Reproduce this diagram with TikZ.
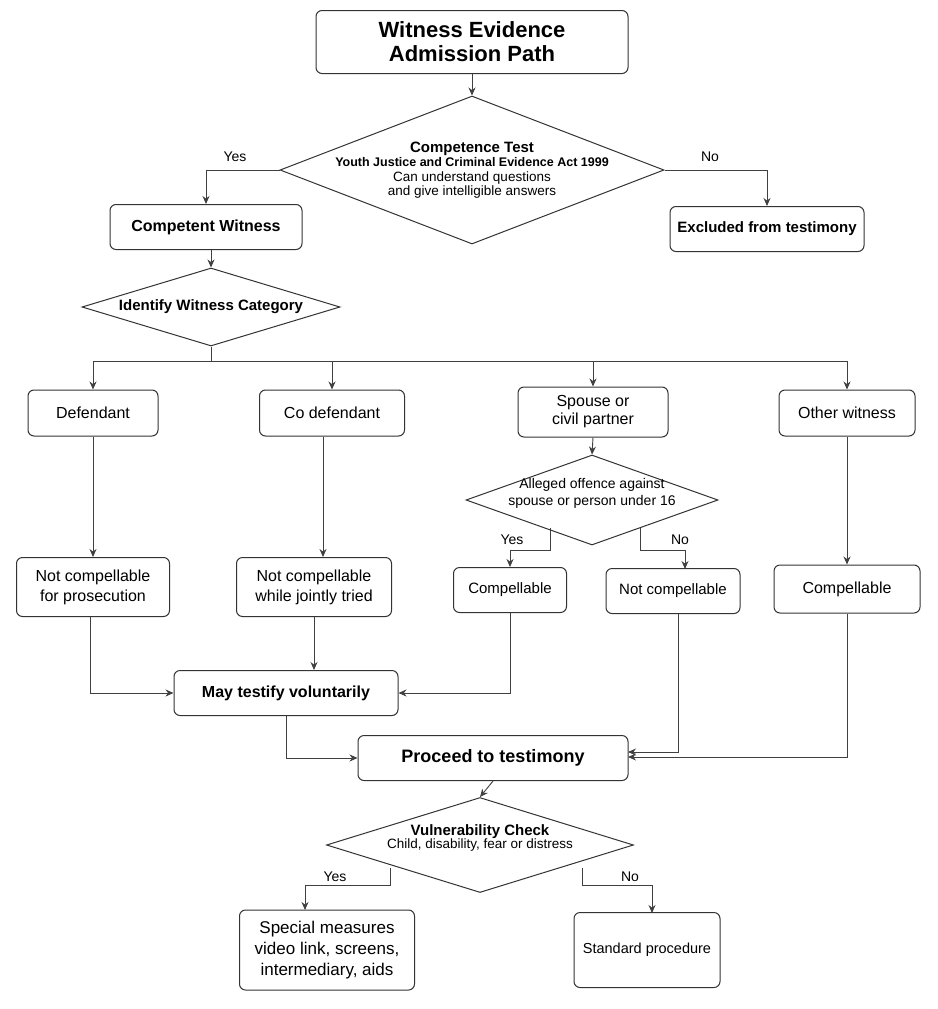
\documentclass[tikz,border=0pt]{standalone}
\usepackage{fontspec}
\setmainfont{Liberation Sans}
\usetikzlibrary{shapes.geometric,arrows.meta}
\begin{document}
\begin{tikzpicture}[x=1pt,y=-1pt,
  box/.style={draw=black!80,line width=1pt,rounded corners=6pt,align=center,inner sep=0pt,fill=white},
  dia/.style={draw=black!80,line width=1pt,diamond,aspect=2.6,align=center,inner sep=0pt,fill=white},
  arr/.style={draw=black!75,line width=0.9pt,-{Stealth[length=8pt,width=7pt]}},
  ln/.style={draw=black!75,line width=0.9pt},
  lab/.style={font=\fontsize{14}{16}\selectfont}]
\useasboundingbox (0,0) rectangle (937,1009);
\node[box,minimum width=312pt,minimum height=63pt,font=\bfseries\fontsize{22}{24}\selectfont] (t) at (472,42) {Witness Evidence\\Admission Path};
\node[dia,minimum width=384pt,minimum height=148pt] (c) at (472,170) {};
\node[align=center] at (472,170) {{\bfseries\fontsize{15}{17}\selectfont Competence Test}\\[1pt]{\bfseries\fontsize{12.5}{15}\selectfont Youth Justice and Criminal Evidence Act 1999}\\[3pt]{\fontsize{13.5}{18}\selectfont Can understand questions}\\{\fontsize{13.5}{16}\selectfont and give intelligible answers}};
\node[box,minimum width=192pt,minimum height=45pt,font=\bfseries\fontsize{16}{18}\selectfont] (cw) at (206,227) {Competent Witness};
\node[box,minimum width=194pt,minimum height=45pt,font=\bfseries\fontsize{15}{18}\selectfont] (ex) at (767,229) {Excluded from testimony};
\node[dia,minimum width=258pt,minimum height=78pt,font=\bfseries\fontsize{15}{18}\selectfont] (id) at (211,307) {};
\node[font=\bfseries\fontsize{15}{18}\selectfont] at (211,307) {Identify Witness Category};
\node[box,minimum width=130pt,minimum height=46pt,font=\fontsize{16}{18}\selectfont] (d) at (93,413) {Defendant};
\node[box,minimum width=145pt,minimum height=46pt,font=\fontsize{16}{18}\selectfont] (cd) at (332,413) {Co defendant};
\node[box,minimum width=150pt,minimum height=50pt,font=\fontsize{16}{18}\selectfont] (sp) at (593,412) {Spouse or\\civil partner};
\node[box,minimum width=136pt,minimum height=46pt,font=\fontsize{16}{18}\selectfont] (ow) at (847,413) {Other witness};
\node[dia,minimum width=252pt,minimum height=90pt] (al) at (592,500) {};
\node[align=center,font=\fontsize{14}{17}\selectfont] at (592,493) {Alleged offence against\\spouse or person under 16};
\node[box,minimum width=153pt,minimum height=59pt,font=\fontsize{16}{20}\selectfont] (n1) at (93,587) {Not compellable\\for prosecution};
\node[box,minimum width=155pt,minimum height=59pt,font=\fontsize{16}{20}\selectfont] (n2) at (314,587) {Not compellable\\while jointly tried};
\node[box,minimum width=113pt,minimum height=45pt,font=\fontsize{15}{18}\selectfont] (c1) at (510,590) {Compellable};
\node[box,minimum width=134pt,minimum height=45pt,font=\fontsize{15}{18}\selectfont] (n3) at (673,591) {Not compellable};
\node[box,minimum width=146pt,minimum height=48pt,font=\fontsize{16}{18}\selectfont] (c2) at (847,589) {Compellable};
\node[box,minimum width=224pt,minimum height=45pt,font=\bfseries\fontsize{16}{18}\selectfont] (mt) at (286,693) {May testify voluntarily};
\node[box,minimum width=270pt,minimum height=45pt,font=\bfseries\fontsize{18}{20}\selectfont] (pt) at (493,758) {Proceed to testimony};
\node[dia,minimum width=307pt,minimum height=95pt] (v) at (480,845) {};
\node[align=center] at (480,838) {{\bfseries\fontsize{15}{18}\selectfont Vulnerability Check}\\{\fontsize{13.5}{16}\selectfont Child, disability, fear or distress}};
\node[box,minimum width=175pt,minimum height=80pt,font=\fontsize{17}{21}\selectfont] (sm) at (327,950) {Special measures\\video link, screens,\\intermediary, aids};
\node[box,minimum width=146pt,minimum height=75pt,font=\fontsize{14.5}{18}\selectfont] (sd) at (647,950) {Standard procedure};
% edges
\draw[arr] (t.south) -- (c.north);
\draw[arr] (c.west) -| (cw.north);
\draw[arr] (c.east) -| (ex.north);
\node[lab] at (235,157) {Yes};
\node[lab] at (710,157) {No};
\draw[arr] (cw.south -| id.north) -- (id.north);
\coordinate (bus) at (211,361);
\draw[ln] (id.south) -- (bus);
\draw[ln] (d.north |- bus) -- (ow.north |- bus);
\foreach \n in {d,cd,sp,ow} \draw[arr] (\n.north |- bus) -- (\n.north);
\draw[arr] (sp.south) -- (al.north);
\coordinate (ay) at (550,550); \coordinate (an) at (640,550);
\draw[arr] (550,528) -- (ay) -| (c1.north);
\draw[arr] (640,528) -- (an) -| (685,569);
\node[lab] at (512,540) {Yes};
\node[lab] at (680,540) {No};
\draw[arr] (d.south) -- (n1.north -| d.south);
\draw[arr] (cd.south -| n2.north) ++(9,0) -- (323,557);
\draw[arr] (ow.south) -- (c2.north);
\draw[arr] (n1.south -| 90,0) |- (mt.west);
\draw[arr] (n2.south) -- (mt.north -| n2.south);
\draw[arr] (c1.south) |- (mt.east);
\draw[arr] (mt.south) |- (pt.west);
\draw[arr] (678,614) |- (628,752);
\draw[arr] (c2.south) |- (628,757);
\draw[arr] (pt.south) -- (v.north);
\draw[arr] (390,868) -- (390,885) -| (305,910);
\draw[arr] (582,868) -- (582,885) -| (652,913);
\node[lab] at (335,877) {Yes};
\node[lab] at (630,877) {No};
\end{tikzpicture}
\end{document}
